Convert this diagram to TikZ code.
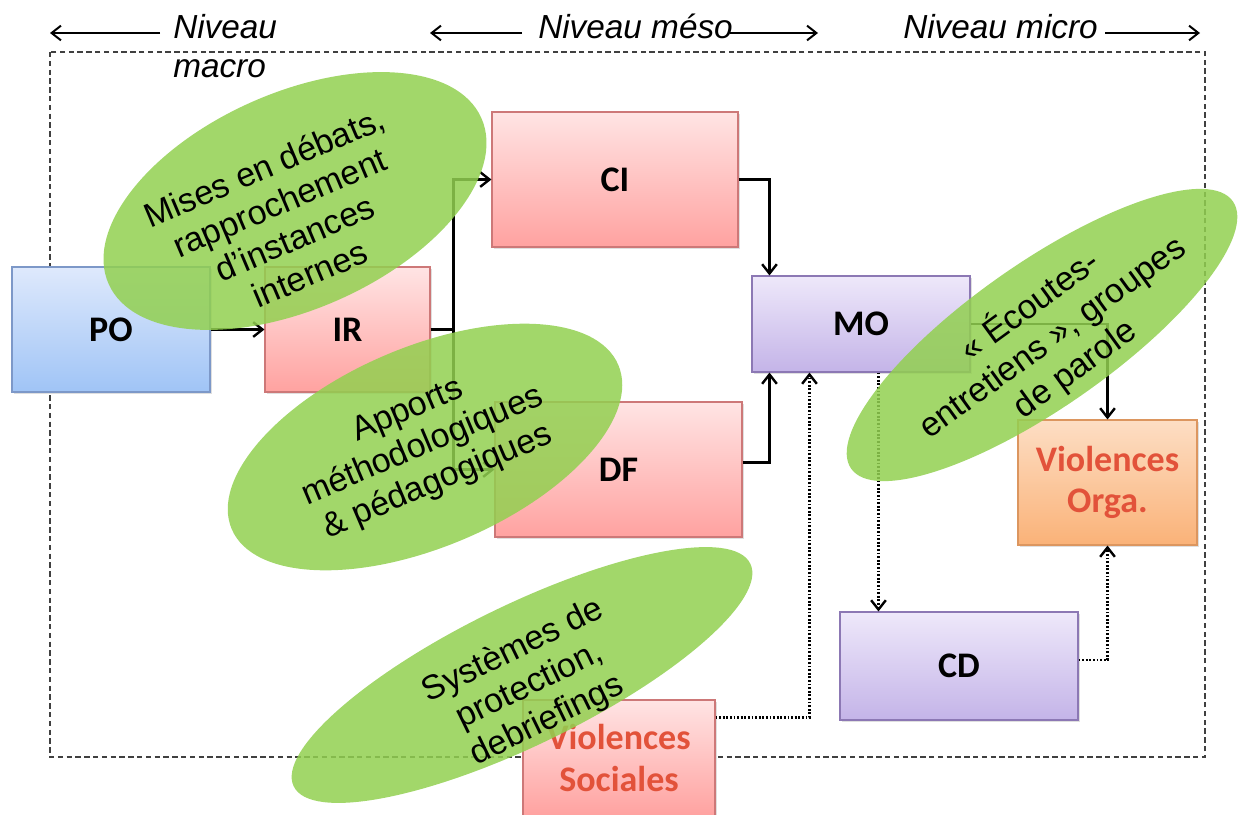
\documentclass[tikz,border=0pt]{standalone}
\usepackage{fontspec}
\setmainfont{Liberation Sans}
\newfontfamily\boxfont{Carlito}
\usetikzlibrary{arrows.meta,shapes.geometric,shadows,calc}

\definecolor{ellgreen}{RGB}{146,208,80}
\definecolor{bluetop}{RGB}{222,233,252}
\definecolor{bluebot}{RGB}{160,196,246}
\definecolor{blueline}{RGB}{125,152,200}
\definecolor{pinktop}{RGB}{255,228,228}
\definecolor{pinkbot}{RGB}{255,162,160}
\definecolor{pinkline}{RGB}{205,120,120}
\definecolor{lilactop}{RGB}{238,232,250}
\definecolor{lilacbot}{RGB}{196,180,232}
\definecolor{lilacline}{RGB}{140,120,180}
\definecolor{orangetop}{RGB}{253,222,196}
\definecolor{orangebot}{RGB}{250,178,120}
\definecolor{orangeline}{RGB}{220,150,95}
\definecolor{redtext}{RGB}{226,82,58}

\tikzset{
  box/.style={draw, line width=0.8pt, inner sep=0pt, align=center,
    font=\boxfont\bfseries\fontsize{27}{31}\selectfont,
    drop shadow={shadow xshift=1.3pt, shadow yshift=-1.3pt, opacity=0.25}},
  bluebox/.style={box, draw=blueline, top color=bluetop, bottom color=bluebot},
  pinkbox/.style={box, draw=pinkline, top color=pinktop, bottom color=pinkbot},
  lilacbox/.style={box, draw=lilacline, top color=lilactop, bottom color=lilacbot},
  orangebox/.style={box, draw=orangeline, top color=orangetop, bottom color=orangebot},
  conn/.style={line width=2pt, -{Straight Barb[length=7pt,width=11pt,line width=1.8pt]}},
  dotconn/.style={line width=2pt, dash pattern=on 1.4pt off 1.3pt,
    -{Straight Barb[length=7pt,width=11pt,line width=1.8pt]}},
  toparr/.style={line width=1.6pt, -{Straight Barb[length=7pt,width=11pt,line width=1.5pt]}},
  level/.style={font=\itshape\fontsize{25}{29}\selectfont, inner sep=0pt},
  blob/.style={ellipse, fill=ellgreen, fill opacity=0.85, inner sep=0pt},
  blobtext/.style={align=center, inner sep=0pt, font=\fontsize{25.5}{29}\selectfont},
  frame/.style={draw=black!75, line width=1pt, dash pattern=on 4pt off 2.6pt}
}

\begin{document}
\begin{tikzpicture}[x=0.75pt,y=-0.75pt]
\useasboundingbox (0,0) rectangle (1248,814);

% levels along the top
\node[level, anchor=base west] (macroA) at (173,38) {Niveau};
\node[level, anchor=base west] (macroB) at (173,77) {macro};
\node[level, anchor=base west] (meso) at (538,38) {Niveau méso};
\node[level, anchor=base west] (micro) at (903,38) {Niveau micro};
\coordinate (mac1) at (160,33); \coordinate (mac0) at (50,33);
\coordinate (mes1) at (522,33); \coordinate (mes0) at (430,33);
\coordinate (mes2) at (730,33); \coordinate (mes3) at (818,33);
\coordinate (mic1) at (1105,33); \coordinate (mic2) at (1200,33);
\draw[toparr] (mac1) -- (mac0);
\draw[toparr] (mes1) -- (mes0);
\draw[toparr] (mes2) -- (mes3);
\draw[toparr] (mic1) -- (mic2);

% dashed frame
\coordinate (fr0) at (50,52); \coordinate (fr1) at (1205,757);
\draw[frame] (fr0) rectangle (fr1);

% boxes
\node[bluebox, minimum width=148.5pt, minimum height=93.75pt] (PO) at (111,329.5) {PO};
\node[pinkbox, minimum width=123.75pt, minimum height=93.75pt] (IR) at (347.5,329.5) {IR};
\node[pinkbox, minimum width=184.5pt, minimum height=101.25pt] (CI) at (615,179.5) {CI};
\node[pinkbox, minimum width=185.25pt, minimum height=101.25pt] (DF) at (618.5,469.5) {DF};
\node[lilacbox, minimum width=163.5pt, minimum height=72pt] (MO) at (861,324) {MO};
\node[orangebox, minimum width=134.25pt, minimum height=93.75pt, text=redtext] (VO) at (1107.5,482.5) {Violences\\Orga.};
\node[lilacbox, minimum width=178.5pt, minimum height=81pt] (CD) at (959,666) {CD};
\node[pinkbox, minimum width=144pt, minimum height=87pt, text=redtext] (VS) at (619,758) {Violences\\Sociales};

% connectors
\draw[conn] (PO.east) -- (IR.west);
\draw[conn] (IR.east) -- ++(23,0) |- (CI.west);
\draw[conn] (IR.east) -- ++(23,0) |- (DF.west);
\draw[conn] (CI.east) -| ($(MO.north west)+(18,0)$);
\draw[conn] ($(DF.east)+(0,-7)$) -| ($(MO.south west)+(18,0)$);
\draw[conn] (MO.east) -| (VO.north);
\draw[dotconn] ($(VS.north east)+(0,18)$) -| ($(MO.south west)+(58,0)$);
\draw[dotconn] ($(MO.south west)+(127,0)$) -- ($(CD.north west)+(39,0)$);
\draw[dotconn] ($(CD.east)+(0,-6)$) -| (VO.south);

% green action ellipses
\node[blob, minimum width=306pt, minimum height=162pt, rotate=24] (E1) at (295,201) {};
\node[blob, minimum width=315pt, minimum height=150pt, rotate=23] (E2) at (425,447) {};
\node[blob, minimum width=349.5pt, minimum height=108pt, rotate=35] (E3) at (1042,335) {};
\node[blob, minimum width=381pt, minimum height=105pt, rotate=26] (E4) at (522,675) {};

\node[blobtext, rotate=23] (T1) at (287,220) {Mises en débats,\\rapprochement\\d’instances\\internes};
\node[blobtext, rotate=23] (T2) at (423,447) {Apports\\méthodologiques\\\& pédagogiques};
\node[blobtext, rotate=36] (T3) at (1052,337) {« Écoutes-\\entretiens », groupes\\de parole};
\node[blobtext, rotate=26] (T4) at (530,686) {Systèmes de\\protection,\\debriefings};
\end{tikzpicture}
\end{document}
